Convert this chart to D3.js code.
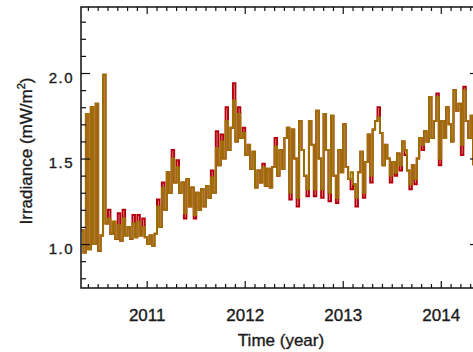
<!DOCTYPE html>
<html>
<head>
<meta charset="utf-8">
<script src="https://cdn.jsdelivr.net/npm/d3@7"></script>
<style>
  body { margin: 0; background: #fff; }
  text { font-family: "Liberation Sans", Arial, Helvetica, sans-serif; fill: #1a1a1a; stroke: #1a1a1a; stroke-width: 0.35px; }
</style>
</head>
<body>
<div id="chart"></div>
<script>
// sampling grid of the irradiance record (decimal year)
const startYear = 2010.33;
const stepYear = 0.025;

// gold series (drawn on top)
const goldVals = [
  1.08, 0.95, 1.76, 0.97, 1.80, 1.00, 1.82, 0.96, 1.05, 1.99,
  1.12, 1.15, 1.06, 1.13, 1.03, 1.11, 1.02, 1.15, 1.05, 1.10,
  1.03, 1.12, 1.04, 1.13, 1.05, 1.10, 1.04, 1.00, 1.05, 0.99,
  1.06, 1.22, 1.10, 1.33, 1.20, 1.42, 1.30, 1.50, 1.36, 1.45,
  1.30, 1.36, 1.18, 1.38, 1.22, 1.33, 1.17, 1.30, 1.20, 1.32,
  1.22, 1.34, 1.27, 1.39, 1.30, 1.56, 1.46, 1.60, 1.50, 1.72,
  1.55, 1.68, 1.84, 1.60, 1.76, 1.62, 1.65, 1.52, 1.58, 1.44,
  1.54, 1.33, 1.43, 1.36, 1.45, 1.34, 1.44, 1.33, 1.45, 1.57,
  1.40, 1.55, 1.44, 1.62, 1.68, 1.30, 1.67, 1.50, 1.27, 1.72,
  1.55, 1.40, 1.32, 1.72, 1.58, 1.32, 1.78, 1.50, 1.32, 1.76,
  1.55, 1.30, 1.75, 1.40, 1.27, 1.55, 1.42, 1.70, 1.45, 1.38,
  1.42, 1.35, 1.27, 1.42, 1.54, 1.30, 1.48, 1.64, 1.40, 1.67,
  1.72, 1.74, 1.65, 1.46, 1.58, 1.50, 1.40, 1.48, 1.42, 1.53,
  1.46, 1.60, 1.55, 1.43, 1.35, 1.46, 1.38, 1.50, 1.62, 1.58,
  1.66, 1.60, 1.86, 1.62, 1.72, 1.86, 1.50, 1.72, 1.62, 1.80,
  1.70, 1.60, 1.90, 1.78, 1.82, 1.58, 1.90, 1.72, 1.62, 1.75,
  1.46
];

// red series (drawn underneath, shows where it departs from gold)
const redVals = [
  1.08, 0.95, 1.76, 0.97, 1.80, 1.00, 1.82, 0.96, 1.05, 1.99,
  1.12, 1.20, 1.06, 1.13, 1.03, 1.18, 1.02, 1.20, 1.05, 1.10,
  1.03, 1.17, 1.04, 1.17, 1.05, 1.15, 1.04, 1.00, 1.05, 0.99,
  1.06, 1.26, 1.10, 1.36, 1.20, 1.42, 1.30, 1.55, 1.36, 1.49,
  1.30, 1.36, 1.15, 1.38, 1.22, 1.33, 1.15, 1.30, 1.20, 1.32,
  1.22, 1.34, 1.27, 1.43, 1.30, 1.66, 1.46, 1.64, 1.50, 1.80,
  1.55, 1.68, 1.94, 1.60, 1.80, 1.62, 1.68, 1.52, 1.58, 1.44,
  1.54, 1.33, 1.43, 1.36, 1.47, 1.34, 1.44, 1.33, 1.45, 1.62,
  1.40, 1.55, 1.44, 1.62, 1.68, 1.26, 1.67, 1.50, 1.22, 1.72,
  1.55, 1.40, 1.28, 1.72, 1.58, 1.28, 1.78, 1.50, 1.27, 1.76,
  1.55, 1.25, 1.75, 1.40, 1.24, 1.55, 1.42, 1.70, 1.45, 1.38,
  1.32, 1.35, 1.22, 1.42, 1.54, 1.27, 1.48, 1.64, 1.36, 1.67,
  1.72, 1.80, 1.65, 1.46, 1.58, 1.50, 1.36, 1.48, 1.40, 1.53,
  1.43, 1.60, 1.52, 1.43, 1.32, 1.46, 1.35, 1.50, 1.62, 1.55,
  1.66, 1.60, 1.86, 1.62, 1.72, 1.88, 1.46, 1.72, 1.62, 1.80,
  1.70, 1.60, 1.90, 1.78, 1.82, 1.52, 1.92, 1.72, 1.62, 1.75,
  1.46
];

const yearTicks = [2011, 2012, 2013, 2014];
const yMajorTicks = [1.0, 1.5, 2.0];

const W = 473, H = 352;
const plotL = 81, plotR = 479, plotT = 7, plotB = 288;

const svg = d3.select("#chart").append("svg")
  .attr("width", W).attr("height", H);

const x = d3.scaleLinear().domain([2010.33, 2014.39]).range([plotL, plotR]);
const y = d3.scaleLinear().domain([0.743, 2.386]).range([plotB, plotT]);

// minor ticks
const xMinor = d3.range(2010.4, 2014.39, 0.1).filter(v => Math.abs(v - Math.round(v)) > 0.01);
const yMinor = d3.range(0.8, 2.39, 0.1).filter(v => Math.abs(v * 2 - Math.round(v * 2)) > 0.01);

svg.append("clipPath").attr("id", "plotClip")
  .append("rect").attr("x", plotL).attr("y", plotT)
  .attr("width", plotR - plotL).attr("height", plotB - plotT);

const goldPts = goldVals.map((v, i) => ({ t: startYear + i * stepYear, v: v }));
const redPts = redVals.map((v, i) => ({ t: startYear + i * stepYear, v: v }));

const line = d3.line()
  .x(d => x(d.t))
  .y(d => y(d.v))
  .curve(d3.curveStepAfter);

const plot = svg.append("g").attr("clip-path", "url(#plotClip)");
plot.append("path").datum(redPts)
  .attr("d", line).attr("fill", "none")
  .attr("stroke", "#b3000c").attr("stroke-width", 2);
plot.append("path").datum(goldPts)
  .attr("d", line).attr("fill", "none")
  .attr("stroke", "#9a7300").attr("stroke-width", 1.9);

function styleAxis(g) {
  g.select(".domain").remove();
  g.selectAll(".tick line").attr("stroke", "#111").attr("stroke-width", 1.2);
}

// bottom
svg.append("g").attr("transform", `translate(0,${plotB})`)
  .call(d3.axisBottom(x).tickValues(xMinor).tickSize(-4).tickFormat(""))
  .call(styleAxis);
const xb = svg.append("g").attr("transform", `translate(0,${plotB})`)
  .call(d3.axisBottom(x).tickValues(yearTicks).tickSize(-7).tickFormat(d3.format("d")))
  .call(styleAxis);
xb.selectAll(".tick text")
  .attr("y", 32.5).attr("dy", 0)
  .style("font-size", "17px").attr("fill", "#1a1a1a");

// top
svg.append("g").attr("transform", `translate(0,${plotT})`)
  .call(d3.axisTop(x).tickValues(xMinor).tickSize(-4).tickFormat(""))
  .call(styleAxis);
svg.append("g").attr("transform", `translate(0,${plotT})`)
  .call(d3.axisTop(x).tickValues(yearTicks).tickSize(-7).tickFormat(""))
  .call(styleAxis);

// left
svg.append("g").attr("transform", `translate(${plotL},0)`)
  .call(d3.axisLeft(y).tickValues(yMinor).tickSize(-5).tickFormat(""))
  .call(styleAxis);
const yl = svg.append("g").attr("transform", `translate(${plotL},0)`)
  .call(d3.axisLeft(y).tickValues(yMajorTicks).tickSize(-9).tickPadding(7).tickFormat(d3.format(".1f")))
  .call(styleAxis);
yl.selectAll(".tick text")
  .attr("dy", 9)
  .style("font-size", "15px").style("letter-spacing", "1.5px").attr("fill", "#1a1a1a");

// right
svg.append("g").attr("transform", `translate(${plotR},0)`)
  .call(d3.axisRight(y).tickValues(yMinor).tickSize(-5).tickFormat(""))
  .call(styleAxis);
svg.append("g").attr("transform", `translate(${plotR},0)`)
  .call(d3.axisRight(y).tickValues(yMajorTicks).tickSize(-9).tickFormat(""))
  .call(styleAxis);

// frame
svg.append("rect")
  .attr("x", plotL).attr("y", plotT)
  .attr("width", plotR - plotL).attr("height", plotB - plotT)
  .attr("fill", "none").attr("stroke", "#111").attr("stroke-width", 1.5);

// axis titles
svg.append("text")
  .attr("x", 281).attr("y", 346)
  .attr("text-anchor", "middle")
  .style("font-size", "17px")
  .text("Time (year)");

const yt = svg.append("text")
  .attr("transform", "translate(32,151) rotate(-90)")
  .attr("text-anchor", "middle")
  .style("font-size", "17px");
yt.append("tspan").text("Irradiance (mW/m");
yt.append("tspan").attr("dy", -7).style("font-size", "11px").text("2");
yt.append("tspan").attr("dy", 7).text(")");
</script>
</body>
</html>
